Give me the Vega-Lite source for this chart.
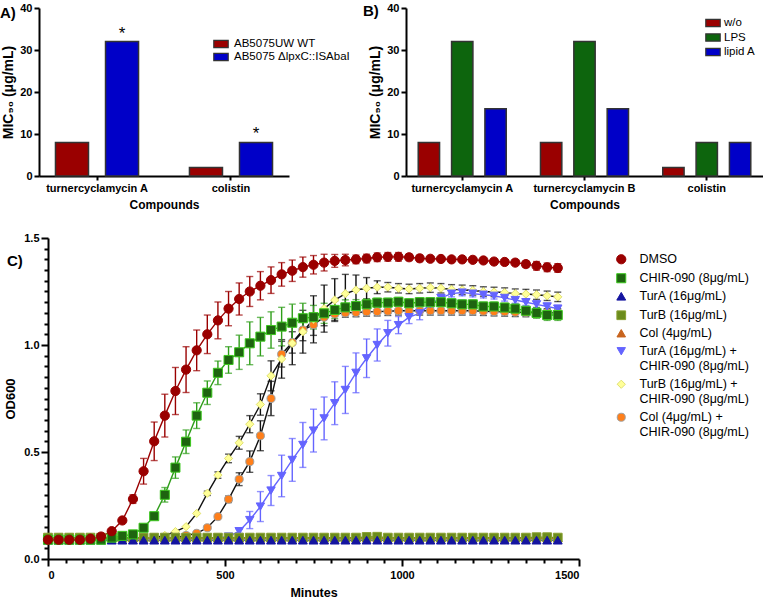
{
"$schema": "https://vega.github.io/schema/vega-lite/v6.json",
"padding": {"left": 0, "top": 2, "right": 0, "bottom": 0},
"background": "white",
"config": {
  "font": "Liberation Sans",
  "view": {"stroke": null},
  "axis": {"grid": false, "domainColor": "#000", "domainWidth": 2, "tickColor": "#000", "tickWidth": 2, "labelColor": "#000", "labelFont": "Liberation Sans", "labelFontWeight": "bold", "labelFontSize": 11, "titleColor": "#000", "titleFont": "Liberation Sans", "titleFontWeight": "bold", "titleFontSize": 12},
  "legend": {"labelColor": "#000", "labelFont": "Liberation Sans"},
  "title": {"color": "#000", "font": "Liberation Sans"}
},
"datasets": {
  "micA": [
    {"compound": "turnercyclamycin A", "strain": "AB5075UW WT", "mic": 8, "sig": ""},
    {"compound": "turnercyclamycin A", "strain": "AB5075 ΔlpxC::ISAbaI", "mic": 32, "sig": "*"},
    {"compound": "colistin", "strain": "AB5075UW WT", "mic": 2, "sig": ""},
    {"compound": "colistin", "strain": "AB5075 ΔlpxC::ISAbaI", "mic": 8, "sig": "*"}
  ],
  "micB": [
    {"compound": "turnercyclamycin A", "cond": "w/o", "mic": 8},
    {"compound": "turnercyclamycin A", "cond": "LPS", "mic": 32},
    {"compound": "turnercyclamycin A", "cond": "lipid A", "mic": 16},
    {"compound": "turnercyclamycin B", "cond": "w/o", "mic": 8},
    {"compound": "turnercyclamycin B", "cond": "LPS", "mic": 32},
    {"compound": "turnercyclamycin B", "cond": "lipid A", "mic": 16},
    {"compound": "colistin", "cond": "w/o", "mic": 2},
    {"compound": "colistin", "cond": "LPS", "mic": 8},
    {"compound": "colistin", "cond": "lipid A", "mic": 8}
  ],
  "growth": [
{"s":"Col (4μg/mL) + CHIR-090 (8μg/mL)","t":0,"v":0.1},
{"s":"Col (4μg/mL) + CHIR-090 (8μg/mL)","t":30,"v":0.1},
{"s":"Col (4μg/mL) + CHIR-090 (8μg/mL)","t":60,"v":0.1},
{"s":"Col (4μg/mL) + CHIR-090 (8μg/mL)","t":90,"v":0.1},
{"s":"Col (4μg/mL) + CHIR-090 (8μg/mL)","t":120,"v":0.1},
{"s":"Col (4μg/mL) + CHIR-090 (8μg/mL)","t":150,"v":0.1},
{"s":"Col (4μg/mL) + CHIR-090 (8μg/mL)","t":180,"v":0.1},
{"s":"Col (4μg/mL) + CHIR-090 (8μg/mL)","t":210,"v":0.1},
{"s":"Col (4μg/mL) + CHIR-090 (8μg/mL)","t":240,"v":0.1},
{"s":"Col (4μg/mL) + CHIR-090 (8μg/mL)","t":270,"v":0.1},
{"s":"Col (4μg/mL) + CHIR-090 (8μg/mL)","t":300,"v":0.1},
{"s":"Col (4μg/mL) + CHIR-090 (8μg/mL)","t":330,"v":0.1},
{"s":"Col (4μg/mL) + CHIR-090 (8μg/mL)","t":360,"v":0.1},
{"s":"Col (4μg/mL) + CHIR-090 (8μg/mL)","t":390,"v":0.11},
{"s":"Col (4μg/mL) + CHIR-090 (8μg/mL)","t":420,"v":0.12},
{"s":"Col (4μg/mL) + CHIR-090 (8μg/mL)","t":450,"v":0.146},
{"s":"Col (4μg/mL) + CHIR-090 (8μg/mL)","t":480,"v":0.198},
{"s":"Col (4μg/mL) + CHIR-090 (8μg/mL)","t":510,"v":0.279,"sd":0.015},
{"s":"Col (4μg/mL) + CHIR-090 (8μg/mL)","t":540,"v":0.373,"sd":0.03},
{"s":"Col (4μg/mL) + CHIR-090 (8μg/mL)","t":570,"v":0.455,"sd":0.05},
{"s":"Col (4μg/mL) + CHIR-090 (8μg/mL)","t":600,"v":0.576,"sd":0.07},
{"s":"Col (4μg/mL) + CHIR-090 (8μg/mL)","t":630,"v":0.75,"sd":0.08},
{"s":"Col (4μg/mL) + CHIR-090 (8μg/mL)","t":660,"v":0.957,"sd":0.06},
{"s":"Col (4μg/mL) + CHIR-090 (8μg/mL)","t":690,"v":1.012,"sd":0.05},
{"s":"Col (4μg/mL) + CHIR-090 (8μg/mL)","t":720,"v":1.07,"sd":0.05},
{"s":"Col (4μg/mL) + CHIR-090 (8μg/mL)","t":750,"v":1.095,"sd":0.05},
{"s":"Col (4μg/mL) + CHIR-090 (8μg/mL)","t":780,"v":1.13,"sd":0.04},
{"s":"Col (4μg/mL) + CHIR-090 (8μg/mL)","t":810,"v":1.145,"sd":0.03},
{"s":"Col (4μg/mL) + CHIR-090 (8μg/mL)","t":840,"v":1.15,"sd":0.02},
{"s":"Col (4μg/mL) + CHIR-090 (8μg/mL)","t":870,"v":1.152,"sd":0.02},
{"s":"Col (4μg/mL) + CHIR-090 (8μg/mL)","t":900,"v":1.155,"sd":0.02},
{"s":"Col (4μg/mL) + CHIR-090 (8μg/mL)","t":930,"v":1.156,"sd":0.02},
{"s":"Col (4μg/mL) + CHIR-090 (8μg/mL)","t":960,"v":1.158,"sd":0.02},
{"s":"Col (4μg/mL) + CHIR-090 (8μg/mL)","t":990,"v":1.16,"sd":0.02},
{"s":"Col (4μg/mL) + CHIR-090 (8μg/mL)","t":1020,"v":1.16,"sd":0.02},
{"s":"Col (4μg/mL) + CHIR-090 (8μg/mL)","t":1050,"v":1.16,"sd":0.02},
{"s":"Col (4μg/mL) + CHIR-090 (8μg/mL)","t":1080,"v":1.16,"sd":0.02},
{"s":"Col (4μg/mL) + CHIR-090 (8μg/mL)","t":1110,"v":1.16,"sd":0.02},
{"s":"Col (4μg/mL) + CHIR-090 (8μg/mL)","t":1140,"v":1.16,"sd":0.02},
{"s":"Col (4μg/mL) + CHIR-090 (8μg/mL)","t":1170,"v":1.16,"sd":0.02},
{"s":"Col (4μg/mL) + CHIR-090 (8μg/mL)","t":1200,"v":1.16,"sd":0.02},
{"s":"Col (4μg/mL) + CHIR-090 (8μg/mL)","t":1230,"v":1.158,"sd":0.02},
{"s":"Col (4μg/mL) + CHIR-090 (8μg/mL)","t":1260,"v":1.156,"sd":0.02},
{"s":"Col (4μg/mL) + CHIR-090 (8μg/mL)","t":1290,"v":1.155,"sd":0.02},
{"s":"Col (4μg/mL) + CHIR-090 (8μg/mL)","t":1320,"v":1.153,"sd":0.02},
{"s":"Col (4μg/mL) + CHIR-090 (8μg/mL)","t":1350,"v":1.152,"sd":0.02},
{"s":"Col (4μg/mL) + CHIR-090 (8μg/mL)","t":1380,"v":1.15,"sd":0.02},
{"s":"Col (4μg/mL) + CHIR-090 (8μg/mL)","t":1410,"v":1.15,"sd":0.02},
{"s":"Col (4μg/mL) + CHIR-090 (8μg/mL)","t":1440,"v":1.15,"sd":0.02},
{"s":"TurB (16μg/mL) + CHIR-090 (8μg/mL)","t":0,"v":0.1},
{"s":"TurB (16μg/mL) + CHIR-090 (8μg/mL)","t":30,"v":0.1},
{"s":"TurB (16μg/mL) + CHIR-090 (8μg/mL)","t":60,"v":0.1},
{"s":"TurB (16μg/mL) + CHIR-090 (8μg/mL)","t":90,"v":0.1},
{"s":"TurB (16μg/mL) + CHIR-090 (8μg/mL)","t":120,"v":0.1},
{"s":"TurB (16μg/mL) + CHIR-090 (8μg/mL)","t":150,"v":0.1},
{"s":"TurB (16μg/mL) + CHIR-090 (8μg/mL)","t":180,"v":0.1},
{"s":"TurB (16μg/mL) + CHIR-090 (8μg/mL)","t":210,"v":0.1},
{"s":"TurB (16μg/mL) + CHIR-090 (8μg/mL)","t":240,"v":0.1},
{"s":"TurB (16μg/mL) + CHIR-090 (8μg/mL)","t":270,"v":0.1},
{"s":"TurB (16μg/mL) + CHIR-090 (8μg/mL)","t":300,"v":0.1},
{"s":"TurB (16μg/mL) + CHIR-090 (8μg/mL)","t":330,"v":0.11},
{"s":"TurB (16μg/mL) + CHIR-090 (8μg/mL)","t":360,"v":0.128},
{"s":"TurB (16μg/mL) + CHIR-090 (8μg/mL)","t":390,"v":0.151},
{"s":"TurB (16μg/mL) + CHIR-090 (8μg/mL)","t":420,"v":0.213},
{"s":"TurB (16μg/mL) + CHIR-090 (8μg/mL)","t":450,"v":0.307,"sd":0.01},
{"s":"TurB (16μg/mL) + CHIR-090 (8μg/mL)","t":480,"v":0.392,"sd":0.015},
{"s":"TurB (16μg/mL) + CHIR-090 (8μg/mL)","t":510,"v":0.47,"sd":0.02},
{"s":"TurB (16μg/mL) + CHIR-090 (8μg/mL)","t":540,"v":0.543,"sd":0.03},
{"s":"TurB (16μg/mL) + CHIR-090 (8μg/mL)","t":570,"v":0.63,"sd":0.04},
{"s":"TurB (16μg/mL) + CHIR-090 (8μg/mL)","t":600,"v":0.722,"sd":0.05},
{"s":"TurB (16μg/mL) + CHIR-090 (8μg/mL)","t":630,"v":0.856,"sd":0.07},
{"s":"TurB (16μg/mL) + CHIR-090 (8μg/mL)","t":660,"v":0.935,"sd":0.09},
{"s":"TurB (16μg/mL) + CHIR-090 (8μg/mL)","t":690,"v":1.008,"sd":0.1},
{"s":"TurB (16μg/mL) + CHIR-090 (8μg/mL)","t":720,"v":1.062,"sd":0.1},
{"s":"TurB (16μg/mL) + CHIR-090 (8μg/mL)","t":750,"v":1.12,"sd":0.11},
{"s":"TurB (16μg/mL) + CHIR-090 (8μg/mL)","t":780,"v":1.17,"sd":0.11},
{"s":"TurB (16μg/mL) + CHIR-090 (8μg/mL)","t":810,"v":1.21,"sd":0.1},
{"s":"TurB (16μg/mL) + CHIR-090 (8μg/mL)","t":840,"v":1.24,"sd":0.09},
{"s":"TurB (16μg/mL) + CHIR-090 (8μg/mL)","t":870,"v":1.257,"sd":0.07},
{"s":"TurB (16μg/mL) + CHIR-090 (8μg/mL)","t":900,"v":1.265,"sd":0.05},
{"s":"TurB (16μg/mL) + CHIR-090 (8μg/mL)","t":930,"v":1.27,"sd":0.03},
{"s":"TurB (16μg/mL) + CHIR-090 (8μg/mL)","t":960,"v":1.27,"sd":0.022},
{"s":"TurB (16μg/mL) + CHIR-090 (8μg/mL)","t":990,"v":1.265,"sd":0.022},
{"s":"TurB (16μg/mL) + CHIR-090 (8μg/mL)","t":1020,"v":1.262,"sd":0.022},
{"s":"TurB (16μg/mL) + CHIR-090 (8μg/mL)","t":1050,"v":1.265,"sd":0.022},
{"s":"TurB (16μg/mL) + CHIR-090 (8μg/mL)","t":1080,"v":1.268,"sd":0.022},
{"s":"TurB (16μg/mL) + CHIR-090 (8μg/mL)","t":1110,"v":1.265,"sd":0.022},
{"s":"TurB (16μg/mL) + CHIR-090 (8μg/mL)","t":1140,"v":1.26,"sd":0.022},
{"s":"TurB (16μg/mL) + CHIR-090 (8μg/mL)","t":1170,"v":1.258,"sd":0.022},
{"s":"TurB (16μg/mL) + CHIR-090 (8μg/mL)","t":1200,"v":1.255,"sd":0.022},
{"s":"TurB (16μg/mL) + CHIR-090 (8μg/mL)","t":1230,"v":1.25,"sd":0.022},
{"s":"TurB (16μg/mL) + CHIR-090 (8μg/mL)","t":1260,"v":1.248,"sd":0.022},
{"s":"TurB (16μg/mL) + CHIR-090 (8μg/mL)","t":1290,"v":1.245,"sd":0.022},
{"s":"TurB (16μg/mL) + CHIR-090 (8μg/mL)","t":1320,"v":1.24,"sd":0.022},
{"s":"TurB (16μg/mL) + CHIR-090 (8μg/mL)","t":1350,"v":1.238,"sd":0.022},
{"s":"TurB (16μg/mL) + CHIR-090 (8μg/mL)","t":1380,"v":1.235,"sd":0.022},
{"s":"TurB (16μg/mL) + CHIR-090 (8μg/mL)","t":1410,"v":1.23,"sd":0.022},
{"s":"TurB (16μg/mL) + CHIR-090 (8μg/mL)","t":1440,"v":1.225,"sd":0.022},
{"s":"TurA (16μg/mL) + CHIR-090 (8μg/mL)","t":0,"v":0.095},
{"s":"TurA (16μg/mL) + CHIR-090 (8μg/mL)","t":30,"v":0.095},
{"s":"TurA (16μg/mL) + CHIR-090 (8μg/mL)","t":60,"v":0.095},
{"s":"TurA (16μg/mL) + CHIR-090 (8μg/mL)","t":90,"v":0.095},
{"s":"TurA (16μg/mL) + CHIR-090 (8μg/mL)","t":120,"v":0.095},
{"s":"TurA (16μg/mL) + CHIR-090 (8μg/mL)","t":150,"v":0.095},
{"s":"TurA (16μg/mL) + CHIR-090 (8μg/mL)","t":180,"v":0.095},
{"s":"TurA (16μg/mL) + CHIR-090 (8μg/mL)","t":210,"v":0.095},
{"s":"TurA (16μg/mL) + CHIR-090 (8μg/mL)","t":240,"v":0.1},
{"s":"TurA (16μg/mL) + CHIR-090 (8μg/mL)","t":270,"v":0.1},
{"s":"TurA (16μg/mL) + CHIR-090 (8μg/mL)","t":300,"v":0.1},
{"s":"TurA (16μg/mL) + CHIR-090 (8μg/mL)","t":330,"v":0.1},
{"s":"TurA (16μg/mL) + CHIR-090 (8μg/mL)","t":360,"v":0.1},
{"s":"TurA (16μg/mL) + CHIR-090 (8μg/mL)","t":390,"v":0.1},
{"s":"TurA (16μg/mL) + CHIR-090 (8μg/mL)","t":420,"v":0.1},
{"s":"TurA (16μg/mL) + CHIR-090 (8μg/mL)","t":450,"v":0.1},
{"s":"TurA (16μg/mL) + CHIR-090 (8μg/mL)","t":480,"v":0.1},
{"s":"TurA (16μg/mL) + CHIR-090 (8μg/mL)","t":510,"v":0.105},
{"s":"TurA (16μg/mL) + CHIR-090 (8μg/mL)","t":540,"v":0.13,"sd":0.01},
{"s":"TurA (16μg/mL) + CHIR-090 (8μg/mL)","t":570,"v":0.182,"sd":0.04},
{"s":"TurA (16μg/mL) + CHIR-090 (8μg/mL)","t":600,"v":0.245,"sd":0.07},
{"s":"TurA (16μg/mL) + CHIR-090 (8μg/mL)","t":630,"v":0.32,"sd":0.07},
{"s":"TurA (16μg/mL) + CHIR-090 (8μg/mL)","t":660,"v":0.388,"sd":0.097},
{"s":"TurA (16μg/mL) + CHIR-090 (8μg/mL)","t":690,"v":0.463,"sd":0.1},
{"s":"TurA (16μg/mL) + CHIR-090 (8μg/mL)","t":720,"v":0.533,"sd":0.105},
{"s":"TurA (16μg/mL) + CHIR-090 (8μg/mL)","t":750,"v":0.6,"sd":0.1},
{"s":"TurA (16μg/mL) + CHIR-090 (8μg/mL)","t":780,"v":0.657,"sd":0.1},
{"s":"TurA (16μg/mL) + CHIR-090 (8μg/mL)","t":810,"v":0.728,"sd":0.1},
{"s":"TurA (16μg/mL) + CHIR-090 (8μg/mL)","t":840,"v":0.79,"sd":0.11},
{"s":"TurA (16μg/mL) + CHIR-090 (8μg/mL)","t":870,"v":0.87,"sd":0.093},
{"s":"TurA (16μg/mL) + CHIR-090 (8μg/mL)","t":900,"v":0.938,"sd":0.09},
{"s":"TurA (16μg/mL) + CHIR-090 (8μg/mL)","t":930,"v":1.0,"sd":0.075},
{"s":"TurA (16μg/mL) + CHIR-090 (8μg/mL)","t":960,"v":1.055,"sd":0.06},
{"s":"TurA (16μg/mL) + CHIR-090 (8μg/mL)","t":990,"v":1.093,"sd":0.04},
{"s":"TurA (16μg/mL) + CHIR-090 (8μg/mL)","t":1020,"v":1.13,"sd":0.03},
{"s":"TurA (16μg/mL) + CHIR-090 (8μg/mL)","t":1050,"v":1.148,"sd":0.03},
{"s":"TurA (16μg/mL) + CHIR-090 (8μg/mL)","t":1080,"v":1.19,"sd":0.015},
{"s":"TurA (16μg/mL) + CHIR-090 (8μg/mL)","t":1110,"v":1.22,"sd":0.015},
{"s":"TurA (16μg/mL) + CHIR-090 (8μg/mL)","t":1140,"v":1.24,"sd":0.015},
{"s":"TurA (16μg/mL) + CHIR-090 (8μg/mL)","t":1170,"v":1.245,"sd":0.015},
{"s":"TurA (16μg/mL) + CHIR-090 (8μg/mL)","t":1200,"v":1.24,"sd":0.015},
{"s":"TurA (16μg/mL) + CHIR-090 (8μg/mL)","t":1230,"v":1.235,"sd":0.015},
{"s":"TurA (16μg/mL) + CHIR-090 (8μg/mL)","t":1260,"v":1.23,"sd":0.015},
{"s":"TurA (16μg/mL) + CHIR-090 (8μg/mL)","t":1290,"v":1.22,"sd":0.015},
{"s":"TurA (16μg/mL) + CHIR-090 (8μg/mL)","t":1320,"v":1.21,"sd":0.015},
{"s":"TurA (16μg/mL) + CHIR-090 (8μg/mL)","t":1350,"v":1.2,"sd":0.015},
{"s":"TurA (16μg/mL) + CHIR-090 (8μg/mL)","t":1380,"v":1.19,"sd":0.015},
{"s":"TurA (16μg/mL) + CHIR-090 (8μg/mL)","t":1410,"v":1.18,"sd":0.015},
{"s":"TurA (16μg/mL) + CHIR-090 (8μg/mL)","t":1440,"v":1.17,"sd":0.015},
{"s":"Col (4μg/mL)","t":0,"v":0.097},{"s":"Col (4μg/mL)","t":30,"v":0.097},{"s":"Col (4μg/mL)","t":60,"v":0.097},{"s":"Col (4μg/mL)","t":90,"v":0.097},{"s":"Col (4μg/mL)","t":120,"v":0.097},{"s":"Col (4μg/mL)","t":150,"v":0.097},{"s":"Col (4μg/mL)","t":180,"v":0.097},{"s":"Col (4μg/mL)","t":210,"v":0.097},{"s":"Col (4μg/mL)","t":240,"v":0.097},{"s":"Col (4μg/mL)","t":270,"v":0.097},{"s":"Col (4μg/mL)","t":300,"v":0.097},{"s":"Col (4μg/mL)","t":330,"v":0.097},{"s":"Col (4μg/mL)","t":360,"v":0.097},{"s":"Col (4μg/mL)","t":390,"v":0.097},{"s":"Col (4μg/mL)","t":420,"v":0.097},{"s":"Col (4μg/mL)","t":450,"v":0.097},{"s":"Col (4μg/mL)","t":480,"v":0.097},{"s":"Col (4μg/mL)","t":510,"v":0.097},{"s":"Col (4μg/mL)","t":540,"v":0.097},{"s":"Col (4μg/mL)","t":570,"v":0.097},{"s":"Col (4μg/mL)","t":600,"v":0.097},{"s":"Col (4μg/mL)","t":630,"v":0.097},{"s":"Col (4μg/mL)","t":660,"v":0.097},{"s":"Col (4μg/mL)","t":690,"v":0.097},{"s":"Col (4μg/mL)","t":720,"v":0.097},{"s":"Col (4μg/mL)","t":750,"v":0.097},{"s":"Col (4μg/mL)","t":780,"v":0.097},{"s":"Col (4μg/mL)","t":810,"v":0.097},{"s":"Col (4μg/mL)","t":840,"v":0.097},{"s":"Col (4μg/mL)","t":870,"v":0.097},{"s":"Col (4μg/mL)","t":900,"v":0.097},{"s":"Col (4μg/mL)","t":930,"v":0.097},{"s":"Col (4μg/mL)","t":960,"v":0.097},{"s":"Col (4μg/mL)","t":990,"v":0.097},{"s":"Col (4μg/mL)","t":1020,"v":0.097},{"s":"Col (4μg/mL)","t":1050,"v":0.097},{"s":"Col (4μg/mL)","t":1080,"v":0.097},{"s":"Col (4μg/mL)","t":1110,"v":0.097},{"s":"Col (4μg/mL)","t":1140,"v":0.097},{"s":"Col (4μg/mL)","t":1170,"v":0.097},{"s":"Col (4μg/mL)","t":1200,"v":0.097},{"s":"Col (4μg/mL)","t":1230,"v":0.097},{"s":"Col (4μg/mL)","t":1260,"v":0.097},{"s":"Col (4μg/mL)","t":1290,"v":0.097},{"s":"Col (4μg/mL)","t":1320,"v":0.097},{"s":"Col (4μg/mL)","t":1350,"v":0.097},{"s":"Col (4μg/mL)","t":1380,"v":0.097},{"s":"Col (4μg/mL)","t":1410,"v":0.097},{"s":"Col (4μg/mL)","t":1440,"v":0.097},
{"s":"TurB (16μg/mL)","t":0,"v":0.1},{"s":"TurB (16μg/mL)","t":30,"v":0.1},{"s":"TurB (16μg/mL)","t":60,"v":0.1},{"s":"TurB (16μg/mL)","t":90,"v":0.1},{"s":"TurB (16μg/mL)","t":120,"v":0.1},{"s":"TurB (16μg/mL)","t":150,"v":0.1},{"s":"TurB (16μg/mL)","t":180,"v":0.1},{"s":"TurB (16μg/mL)","t":210,"v":0.1},{"s":"TurB (16μg/mL)","t":240,"v":0.1},{"s":"TurB (16μg/mL)","t":270,"v":0.1},{"s":"TurB (16μg/mL)","t":300,"v":0.1},{"s":"TurB (16μg/mL)","t":330,"v":0.1},{"s":"TurB (16μg/mL)","t":360,"v":0.1},{"s":"TurB (16μg/mL)","t":390,"v":0.1},{"s":"TurB (16μg/mL)","t":420,"v":0.1},{"s":"TurB (16μg/mL)","t":450,"v":0.1},{"s":"TurB (16μg/mL)","t":480,"v":0.1},{"s":"TurB (16μg/mL)","t":510,"v":0.1},{"s":"TurB (16μg/mL)","t":540,"v":0.1},{"s":"TurB (16μg/mL)","t":570,"v":0.1},{"s":"TurB (16μg/mL)","t":600,"v":0.1},{"s":"TurB (16μg/mL)","t":630,"v":0.1},{"s":"TurB (16μg/mL)","t":660,"v":0.1},{"s":"TurB (16μg/mL)","t":690,"v":0.1},{"s":"TurB (16μg/mL)","t":720,"v":0.1},{"s":"TurB (16μg/mL)","t":750,"v":0.1},{"s":"TurB (16μg/mL)","t":780,"v":0.1},{"s":"TurB (16μg/mL)","t":810,"v":0.1},{"s":"TurB (16μg/mL)","t":840,"v":0.1},{"s":"TurB (16μg/mL)","t":870,"v":0.1},{"s":"TurB (16μg/mL)","t":900,"v":0.103},{"s":"TurB (16μg/mL)","t":930,"v":0.104},{"s":"TurB (16μg/mL)","t":960,"v":0.1},{"s":"TurB (16μg/mL)","t":990,"v":0.1},{"s":"TurB (16μg/mL)","t":1020,"v":0.1},{"s":"TurB (16μg/mL)","t":1050,"v":0.1},{"s":"TurB (16μg/mL)","t":1080,"v":0.1},{"s":"TurB (16μg/mL)","t":1110,"v":0.1},{"s":"TurB (16μg/mL)","t":1140,"v":0.1},{"s":"TurB (16μg/mL)","t":1170,"v":0.1},{"s":"TurB (16μg/mL)","t":1200,"v":0.1},{"s":"TurB (16μg/mL)","t":1230,"v":0.1},{"s":"TurB (16μg/mL)","t":1260,"v":0.1},{"s":"TurB (16μg/mL)","t":1290,"v":0.1},{"s":"TurB (16μg/mL)","t":1320,"v":0.1},{"s":"TurB (16μg/mL)","t":1350,"v":0.1},{"s":"TurB (16μg/mL)","t":1380,"v":0.102},{"s":"TurB (16μg/mL)","t":1410,"v":0.102},{"s":"TurB (16μg/mL)","t":1440,"v":0.1},
{"s":"TurA (16μg/mL)","t":0,"v":0.088},{"s":"TurA (16μg/mL)","t":30,"v":0.088},{"s":"TurA (16μg/mL)","t":60,"v":0.088},{"s":"TurA (16μg/mL)","t":90,"v":0.088},{"s":"TurA (16μg/mL)","t":120,"v":0.088},{"s":"TurA (16μg/mL)","t":150,"v":0.088},{"s":"TurA (16μg/mL)","t":180,"v":0.088},{"s":"TurA (16μg/mL)","t":210,"v":0.088},{"s":"TurA (16μg/mL)","t":240,"v":0.088},{"s":"TurA (16μg/mL)","t":270,"v":0.088},{"s":"TurA (16μg/mL)","t":300,"v":0.088},{"s":"TurA (16μg/mL)","t":330,"v":0.088},{"s":"TurA (16μg/mL)","t":360,"v":0.088},{"s":"TurA (16μg/mL)","t":390,"v":0.088},{"s":"TurA (16μg/mL)","t":420,"v":0.088},{"s":"TurA (16μg/mL)","t":450,"v":0.088},{"s":"TurA (16μg/mL)","t":480,"v":0.088},{"s":"TurA (16μg/mL)","t":510,"v":0.088},{"s":"TurA (16μg/mL)","t":540,"v":0.088},{"s":"TurA (16μg/mL)","t":570,"v":0.088},{"s":"TurA (16μg/mL)","t":600,"v":0.088},{"s":"TurA (16μg/mL)","t":630,"v":0.088},{"s":"TurA (16μg/mL)","t":660,"v":0.088},{"s":"TurA (16μg/mL)","t":690,"v":0.088},{"s":"TurA (16μg/mL)","t":720,"v":0.088},{"s":"TurA (16μg/mL)","t":750,"v":0.088},{"s":"TurA (16μg/mL)","t":780,"v":0.088},{"s":"TurA (16μg/mL)","t":810,"v":0.088},{"s":"TurA (16μg/mL)","t":840,"v":0.088},{"s":"TurA (16μg/mL)","t":870,"v":0.088},{"s":"TurA (16μg/mL)","t":900,"v":0.088},{"s":"TurA (16μg/mL)","t":930,"v":0.088},{"s":"TurA (16μg/mL)","t":960,"v":0.088},{"s":"TurA (16μg/mL)","t":990,"v":0.088},{"s":"TurA (16μg/mL)","t":1020,"v":0.088},{"s":"TurA (16μg/mL)","t":1050,"v":0.088},{"s":"TurA (16μg/mL)","t":1080,"v":0.088},{"s":"TurA (16μg/mL)","t":1110,"v":0.088},{"s":"TurA (16μg/mL)","t":1140,"v":0.088},{"s":"TurA (16μg/mL)","t":1170,"v":0.088},{"s":"TurA (16μg/mL)","t":1200,"v":0.088},{"s":"TurA (16μg/mL)","t":1230,"v":0.088},{"s":"TurA (16μg/mL)","t":1260,"v":0.088},{"s":"TurA (16μg/mL)","t":1290,"v":0.088},{"s":"TurA (16μg/mL)","t":1320,"v":0.088},{"s":"TurA (16μg/mL)","t":1350,"v":0.088},{"s":"TurA (16μg/mL)","t":1380,"v":0.088},{"s":"TurA (16μg/mL)","t":1410,"v":0.088},{"s":"TurA (16μg/mL)","t":1440,"v":0.088},
{"s":"CHIR-090 (8μg/mL)","t":0,"v":0.09},
{"s":"CHIR-090 (8μg/mL)","t":30,"v":0.09},
{"s":"CHIR-090 (8μg/mL)","t":60,"v":0.09},
{"s":"CHIR-090 (8μg/mL)","t":90,"v":0.09},
{"s":"CHIR-090 (8μg/mL)","t":120,"v":0.09},
{"s":"CHIR-090 (8μg/mL)","t":150,"v":0.09},
{"s":"CHIR-090 (8μg/mL)","t":180,"v":0.1},
{"s":"CHIR-090 (8μg/mL)","t":210,"v":0.108},
{"s":"CHIR-090 (8μg/mL)","t":240,"v":0.115},
{"s":"CHIR-090 (8μg/mL)","t":270,"v":0.146},
{"s":"CHIR-090 (8μg/mL)","t":300,"v":0.2,"sd":0.01},
{"s":"CHIR-090 (8μg/mL)","t":330,"v":0.3,"sd":0.034},
{"s":"CHIR-090 (8μg/mL)","t":360,"v":0.427,"sd":0.05},
{"s":"CHIR-090 (8μg/mL)","t":390,"v":0.548,"sd":0.055},
{"s":"CHIR-090 (8μg/mL)","t":420,"v":0.67,"sd":0.06},
{"s":"CHIR-090 (8μg/mL)","t":450,"v":0.777,"sd":0.055},
{"s":"CHIR-090 (8μg/mL)","t":480,"v":0.87,"sd":0.055},
{"s":"CHIR-090 (8μg/mL)","t":510,"v":0.93,"sd":0.062},
{"s":"CHIR-090 (8μg/mL)","t":540,"v":0.966,"sd":0.08},
{"s":"CHIR-090 (8μg/mL)","t":570,"v":1.008,"sd":0.1},
{"s":"CHIR-090 (8μg/mL)","t":600,"v":1.039,"sd":0.09},
{"s":"CHIR-090 (8μg/mL)","t":630,"v":1.07,"sd":0.085},
{"s":"CHIR-090 (8μg/mL)","t":660,"v":1.086,"sd":0.09},
{"s":"CHIR-090 (8μg/mL)","t":690,"v":1.104,"sd":0.087},
{"s":"CHIR-090 (8μg/mL)","t":720,"v":1.125,"sd":0.07},
{"s":"CHIR-090 (8μg/mL)","t":750,"v":1.13,"sd":0.055},
{"s":"CHIR-090 (8μg/mL)","t":780,"v":1.148,"sd":0.047},
{"s":"CHIR-090 (8μg/mL)","t":810,"v":1.164,"sd":0.04},
{"s":"CHIR-090 (8μg/mL)","t":840,"v":1.176,"sd":0.035},
{"s":"CHIR-090 (8μg/mL)","t":870,"v":1.182,"sd":0.03},
{"s":"CHIR-090 (8μg/mL)","t":900,"v":1.19,"sd":0.025},
{"s":"CHIR-090 (8μg/mL)","t":930,"v":1.198,"sd":0.02},
{"s":"CHIR-090 (8μg/mL)","t":960,"v":1.198,"sd":0.02},
{"s":"CHIR-090 (8μg/mL)","t":990,"v":1.202,"sd":0.02},
{"s":"CHIR-090 (8μg/mL)","t":1020,"v":1.195,"sd":0.02},
{"s":"CHIR-090 (8μg/mL)","t":1050,"v":1.2,"sd":0.02},
{"s":"CHIR-090 (8μg/mL)","t":1080,"v":1.2,"sd":0.02},
{"s":"CHIR-090 (8μg/mL)","t":1110,"v":1.2,"sd":0.02},
{"s":"CHIR-090 (8μg/mL)","t":1140,"v":1.195,"sd":0.02},
{"s":"CHIR-090 (8μg/mL)","t":1170,"v":1.19,"sd":0.02},
{"s":"CHIR-090 (8μg/mL)","t":1200,"v":1.19,"sd":0.02},
{"s":"CHIR-090 (8μg/mL)","t":1230,"v":1.18,"sd":0.02},
{"s":"CHIR-090 (8μg/mL)","t":1260,"v":1.18,"sd":0.02},
{"s":"CHIR-090 (8μg/mL)","t":1290,"v":1.175,"sd":0.02},
{"s":"CHIR-090 (8μg/mL)","t":1320,"v":1.17,"sd":0.02},
{"s":"CHIR-090 (8μg/mL)","t":1350,"v":1.16,"sd":0.02},
{"s":"CHIR-090 (8μg/mL)","t":1380,"v":1.15,"sd":0.025},
{"s":"CHIR-090 (8μg/mL)","t":1410,"v":1.14,"sd":0.025},
{"s":"CHIR-090 (8μg/mL)","t":1440,"v":1.14,"sd":0.025},
{"s":"DMSO","t":0,"v":0.09},
{"s":"DMSO","t":30,"v":0.09},
{"s":"DMSO","t":60,"v":0.09},
{"s":"DMSO","t":90,"v":0.09},
{"s":"DMSO","t":120,"v":0.095},
{"s":"DMSO","t":150,"v":0.105},
{"s":"DMSO","t":180,"v":0.13,"sd":0.005},
{"s":"DMSO","t":210,"v":0.18,"sd":0.01},
{"s":"DMSO","t":240,"v":0.28,"sd":0.02},
{"s":"DMSO","t":270,"v":0.41,"sd":0.06},
{"s":"DMSO","t":300,"v":0.55,"sd":0.09},
{"s":"DMSO","t":330,"v":0.67,"sd":0.1},
{"s":"DMSO","t":360,"v":0.785,"sd":0.11},
{"s":"DMSO","t":390,"v":0.885,"sd":0.107},
{"s":"DMSO","t":420,"v":0.975,"sd":0.095},
{"s":"DMSO","t":450,"v":1.05,"sd":0.09},
{"s":"DMSO","t":480,"v":1.115,"sd":0.086},
{"s":"DMSO","t":510,"v":1.17,"sd":0.08},
{"s":"DMSO","t":540,"v":1.215,"sd":0.075},
{"s":"DMSO","t":570,"v":1.25,"sd":0.07},
{"s":"DMSO","t":600,"v":1.277,"sd":0.066},
{"s":"DMSO","t":630,"v":1.303,"sd":0.062},
{"s":"DMSO","t":660,"v":1.33,"sd":0.055},
{"s":"DMSO","t":690,"v":1.347,"sd":0.05},
{"s":"DMSO","t":720,"v":1.364,"sd":0.047},
{"s":"DMSO","t":750,"v":1.375,"sd":0.043},
{"s":"DMSO","t":780,"v":1.385,"sd":0.039},
{"s":"DMSO","t":810,"v":1.393,"sd":0.03},
{"s":"DMSO","t":840,"v":1.397,"sd":0.027},
{"s":"DMSO","t":870,"v":1.4,"sd":0.02},
{"s":"DMSO","t":900,"v":1.404,"sd":0.02},
{"s":"DMSO","t":930,"v":1.41,"sd":0.02},
{"s":"DMSO","t":960,"v":1.412,"sd":0.02},
{"s":"DMSO","t":990,"v":1.412,"sd":0.02},
{"s":"DMSO","t":1020,"v":1.41,"sd":0.015},
{"s":"DMSO","t":1050,"v":1.405,"sd":0.015},
{"s":"DMSO","t":1080,"v":1.403,"sd":0.01},
{"s":"DMSO","t":1110,"v":1.402,"sd":0.01},
{"s":"DMSO","t":1140,"v":1.4,"sd":0.01},
{"s":"DMSO","t":1170,"v":1.4,"sd":0.01},
{"s":"DMSO","t":1200,"v":1.398,"sd":0.01},
{"s":"DMSO","t":1230,"v":1.395,"sd":0.01},
{"s":"DMSO","t":1260,"v":1.39,"sd":0.01},
{"s":"DMSO","t":1290,"v":1.388,"sd":0.01},
{"s":"DMSO","t":1320,"v":1.385,"sd":0.012},
{"s":"DMSO","t":1350,"v":1.378,"sd":0.015},
{"s":"DMSO","t":1380,"v":1.37,"sd":0.02},
{"s":"DMSO","t":1410,"v":1.363,"sd":0.02},
{"s":"DMSO","t":1440,"v":1.36,"sd":0.02}
  ]
},
"spacing": 22,
"resolve": {"scale": {"x": "independent", "y": "independent", "xOffset": "independent", "fill": "independent", "stroke": "independent", "color": "independent", "shape": "independent", "size": "independent"}, "legend": {"fill": "independent", "stroke": "independent", "color": "independent", "shape": "independent", "size": "independent"}},
"vconcat": [
  {
    "bounds": "flush",
    "spacing": 117,
    "resolve": {"scale": {"x": "independent", "y": "independent", "xOffset": "independent", "fill": "independent"}, "legend": {"fill": "independent"}},
    "hconcat": [
      {
        "width": 250, "height": 168,
        "title": {"text": "A)", "anchor": "start", "frame": "group", "baseline": "top", "offset": 0, "dx": -39, "dy": 19, "fontSize": 15, "fontWeight": "bold"},
        "data": {"name": "micA"},
        "encoding": {
          "x": {"field": "compound", "type": "nominal", "sort": ["turnercyclamycin A", "colistin"], "scale": {"paddingInner": 0.38, "paddingOuter": 0.123}, "axis": {"labelAngle": 0, "title": "Compounds", "tickSize": 4, "labelPadding": 2, "titlePadding": 6}},
          "xOffset": {"field": "strain", "type": "nominal", "sort": ["AB5075UW WT", "AB5075 ΔlpxC::ISAbaI"], "scale": {"paddingInner": 0.34, "paddingOuter": 0}},
          "y": {"field": "mic", "type": "quantitative", "scale": {"domain": [0, 40], "nice": false}, "axis": {"values": [0, 10, 20, 30, 40], "title": "MIC₉₀ (μg/mL)", "titleFontSize": 14, "tickSize": 5, "labelPadding": 2, "titlePadding": 4}}
        },
        "layer": [
          {
            "mark": {"type": "bar", "stroke": "#333333", "strokeWidth": 1.5},
            "encoding": {
              "fill": {"field": "strain", "type": "nominal", "scale": {"domain": ["AB5075UW WT", "AB5075 ΔlpxC::ISAbaI"], "range": ["#9a0000", "#0000c8"]},
                "legend": {"orient": "none", "legendX": 175, "legendY": 29, "title": null, "padding": 0, "symbolType": "M-1.2,-0.6H1.2V0.6H-1.2Z", "symbolSize": 144, "symbolStrokeColor": "#333333", "symbolStrokeWidth": 1.2, "symbolOpacity": 1, "labelFontSize": 11.5, "labelOffset": 6, "rowPadding": 0}}
            }
          },
          {
            "mark": {"type": "text", "fontSize": 17, "baseline": "alphabetic", "dy": -3, "color": "#000"},
            "encoding": {"text": {"field": "sig"}}
          }
        ]
      },
      {
        "width": 357, "height": 168,
        "title": {"text": "B)", "anchor": "start", "frame": "group", "baseline": "top", "offset": 0, "dx": -43, "dy": 17, "fontSize": 15, "fontWeight": "bold"},
        "data": {"name": "micB"},
        "mark": {"type": "bar", "stroke": "#333333", "strokeWidth": 1.5},
        "encoding": {
          "x": {"field": "compound", "type": "nominal", "sort": ["turnercyclamycin A", "turnercyclamycin B", "colistin"], "scale": {"paddingInner": 0.28, "paddingOuter": 0.1}, "axis": {"labelAngle": 0, "title": "Compounds", "tickSize": 4, "labelPadding": 2, "titlePadding": 6}},
          "xOffset": {"field": "cond", "type": "nominal", "sort": ["w/o", "LPS", "lipid A"], "scale": {"paddingInner": 0.36, "paddingOuter": 0}},
          "y": {"field": "mic", "type": "quantitative", "scale": {"domain": [0, 40], "nice": false}, "axis": {"values": [0, 10, 20, 30, 40], "title": "MIC₉₀ (μg/mL)", "titleFontSize": 14, "tickSize": 5, "labelPadding": 2, "titlePadding": 4}},
          "fill": {"field": "cond", "type": "nominal", "scale": {"domain": ["w/o", "LPS", "lipid A"], "range": ["#9a0000", "#0d650d", "#0000c8"]},
            "legend": {"orient": "none", "legendX": 300, "legendY": 8, "title": null, "padding": 0, "symbolType": "M-1.2,-0.6H1.2V0.6H-1.2Z", "symbolSize": 144, "symbolStrokeColor": "#333333", "symbolStrokeWidth": 1.2, "symbolOpacity": 1, "labelFontSize": 11.5, "labelOffset": 4, "rowPadding": 1.5}}
        }
      }
    ]
  },
  {
    "bounds": "flush",
    "spacing": 8,
    "resolve": {"scale": {"fill": "independent", "stroke": "independent", "color": "independent", "shape": "independent", "size": "independent"}, "legend": {"fill": "independent", "stroke": "independent", "color": "independent", "shape": "independent", "size": "independent"}},
    "hconcat": [
      {
        "width": 1, "height": 1,
        "data": {"values": [{"a": 0}]},
        "mark": {"type": "point", "opacity": 0},
        "encoding": {}
      },
      {
        "width": 531, "height": 321,
        "title": {"text": "C)", "anchor": "start", "frame": "group", "baseline": "top", "offset": 0, "dx": -41, "dy": 37, "fontSize": 15, "fontWeight": "bold"},
        "data": {"name": "growth"},
        "encoding": {
          "x": {"field": "t", "type": "quantitative", "scale": {"domain": [0, 1500], "nice": false},
            "axis": {"values": [0,50,100,150,200,250,300,350,400,450,500,550,600,650,700,750,800,850,900,950,1000,1050,1100,1150,1200,1250,1300,1350,1400,1450,1500],
              "labelExpr": "datum.value % 500 === 0 ? format(datum.value, 'd') : ''",
              "tickSize": {"condition": {"test": "datum.value % 500 === 0", "value": 7}, "value": 4},
              "title": "Minutes", "titleFontSize": 12.5, "labelPadding": 3, "titlePadding": 6}},
          "y": {"field": "v", "type": "quantitative", "scale": {"domain": [0, 1.5], "nice": false},
            "axis": {"values": [0,0.05,0.1,0.15,0.2,0.25,0.3,0.35,0.4,0.45,0.5,0.55,0.6,0.65,0.7,0.75,0.8,0.85,0.9,0.95,1,1.05,1.1,1.15,1.2,1.25,1.3,1.35,1.4,1.45,1.5],
              "labelExpr": "datum.value % 0.5 < 0.000001 ? format(datum.value, '.1f') : ''",
              "tickSize": {"condition": {"test": "datum.value % 0.5 < 0.000001", "value": 7}, "value": 4},
              "title": "OD600", "titleFontSize": 13, "labelPadding": 2, "titlePadding": 6}}
        },
        "layer": [
          {
            "transform": [{"filter": "datum.sd > 0"}],
            "mark": {"type": "errorbar", "ticks": true, "size": 7, "thickness": 1.4},
            "encoding": {
              "yError": {"field": "sd"},
              "color": {"field": "s", "type": "nominal", "legend": null}
            }
          },
          {
            "mark": {"type": "line", "strokeWidth": 1.4},
            "encoding": {
              "color": {"field": "s", "type": "nominal", "legend": null,
                "scale": {"domain": ["Col (4μg/mL) + CHIR-090 (8μg/mL)", "TurB (16μg/mL) + CHIR-090 (8μg/mL)", "TurA (16μg/mL) + CHIR-090 (8μg/mL)", "Col (4μg/mL)", "TurB (16μg/mL)", "TurA (16μg/mL)", "CHIR-090 (8μg/mL)", "DMSO"],
                  "range": ["#111111", "#111111", "#6464ff", "#c8641e", "#6b8c1c", "#1414a0", "#2f9e1a", "#9a0000"]}}
            }
          },
          {
            "mark": {"type": "point", "filled": true, "opacity": 1, "strokeWidth": 1},
            "encoding": {
              "fill": {"field": "s", "type": "nominal",
                "scale": {"domain": ["DMSO", "CHIR-090 (8μg/mL)", "TurA (16μg/mL)", "TurB (16μg/mL)", "Col (4μg/mL)", "TurA (16μg/mL) + CHIR-090 (8μg/mL)", "TurB (16μg/mL) + CHIR-090 (8μg/mL)", "Col (4μg/mL) + CHIR-090 (8μg/mL)"],
                  "range": ["#9a0000", "#1e6410", "#1414a0", "#6b8c1c", "#c8641e", "#6464ff", "#ffff99", "#ff7f1a"]},
                "legend": {"orient": "none", "legendX": 567, "legendY": 15, "title": null, "padding": 0, "labelFontSize": 12.5, "labelOffset": 12, "rowPadding": 5, "symbolOpacity": 1, "symbolStrokeWidth": 1, "labelLimit": 220,
                  "labelExpr": "indexof(datum.label, ' + ') > 0 ? [substring(datum.label, 0, indexof(datum.label, ' + ') + 2), substring(datum.label, indexof(datum.label, ' + ') + 3)] : datum.label"}},
              "stroke": {"field": "s", "type": "nominal",
                "scale": {"domain": ["DMSO", "CHIR-090 (8μg/mL)", "TurA (16μg/mL)", "TurB (16μg/mL)", "Col (4μg/mL)", "TurA (16μg/mL) + CHIR-090 (8μg/mL)", "TurB (16μg/mL) + CHIR-090 (8μg/mL)", "Col (4μg/mL) + CHIR-090 (8μg/mL)"],
                  "range": ["#9a0000", "#3cc81e", "#1414a0", "#8aa030", "#c8641e", "#6464ff", "#e0e070", "#a0a0a0"]},
                "legend": {"orient": "none", "legendX": 567, "legendY": 15, "title": null, "padding": 0, "labelFontSize": 12.5, "labelOffset": 12, "rowPadding": 5, "symbolOpacity": 1, "symbolStrokeWidth": 1, "labelLimit": 220,
                  "labelExpr": "indexof(datum.label, ' + ') > 0 ? [substring(datum.label, 0, indexof(datum.label, ' + ') + 2), substring(datum.label, indexof(datum.label, ' + ') + 3)] : datum.label"}},
              "shape": {"field": "s", "type": "nominal",
                "scale": {"domain": ["DMSO", "CHIR-090 (8μg/mL)", "TurA (16μg/mL)", "TurB (16μg/mL)", "Col (4μg/mL)", "TurA (16μg/mL) + CHIR-090 (8μg/mL)", "TurB (16μg/mL) + CHIR-090 (8μg/mL)", "Col (4μg/mL) + CHIR-090 (8μg/mL)"],
                  "range": ["circle", "square", "triangle-up", "square", "triangle-up", "triangle-down", "diamond", "circle"]},
                "legend": {"orient": "none", "legendX": 567, "legendY": 15, "title": null, "padding": 0, "labelFontSize": 12.5, "labelOffset": 12, "rowPadding": 5, "symbolOpacity": 1, "symbolStrokeWidth": 1, "labelLimit": 220,
                  "labelExpr": "indexof(datum.label, ' + ') > 0 ? [substring(datum.label, 0, indexof(datum.label, ' + ') + 2), substring(datum.label, indexof(datum.label, ' + ') + 3)] : datum.label"}},
              "size": {"field": "s", "type": "nominal",
                "scale": {"domain": ["DMSO", "CHIR-090 (8μg/mL)", "TurA (16μg/mL)", "TurB (16μg/mL)", "Col (4μg/mL)", "TurA (16μg/mL) + CHIR-090 (8μg/mL)", "TurB (16μg/mL) + CHIR-090 (8μg/mL)", "Col (4μg/mL) + CHIR-090 (8μg/mL)"],
                  "range": [85, 65, 60, 55, 25, 65, 50, 75]},
                "legend": {"orient": "none", "legendX": 567, "legendY": 15, "title": null, "padding": 0, "labelFontSize": 12.5, "labelOffset": 12, "rowPadding": 5, "symbolOpacity": 1, "symbolStrokeWidth": 1, "labelLimit": 220,
                  "labelExpr": "indexof(datum.label, ' + ') > 0 ? [substring(datum.label, 0, indexof(datum.label, ' + ') + 2), substring(datum.label, indexof(datum.label, ' + ') + 3)] : datum.label"}}
            }
          }
        ]
      }
    ]
  }
]
}
